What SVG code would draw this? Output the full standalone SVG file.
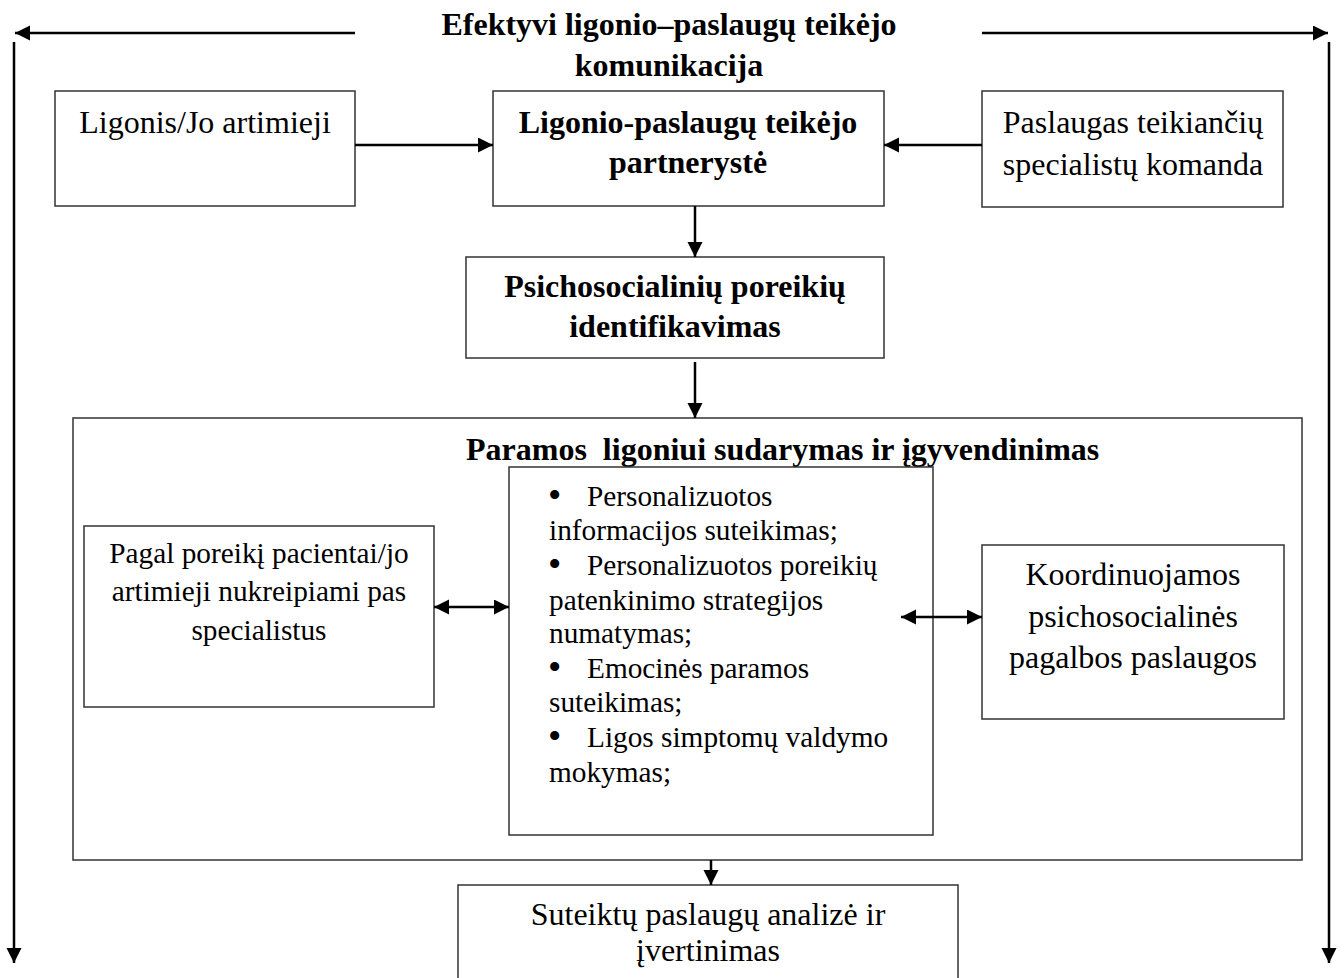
<svg xmlns="http://www.w3.org/2000/svg" width="1344" height="978" viewBox="0 0 1344 978">
<style>
.box{fill:#fff;stroke:#333;stroke-width:1.5}
.t{font-family:"Liberation Serif","Times New Roman",serif;font-size:32px;fill:#000}
.s{font-size:29.3px}
.bu{font-size:38px}
.b{font-weight:bold}
.c{text-anchor:middle}
.ln{stroke:#000;stroke-width:2.5;fill:none}
</style>
<defs>
<marker id="ah" markerUnits="userSpaceOnUse" markerWidth="16" markerHeight="16" refX="15" refY="7.5" orient="auto-start-reverse">
<path d="M0,0 L15,7.5 L0,15 z" fill="#000"/>
</marker>
</defs>
<rect width="1344" height="978" fill="#fff"/>
<g id="title">
<text class="t b c" x="669" y="35">Efektyvi ligonio–paslaugų teikėjo</text>
<text class="t b c" x="669" y="76">komunikacija</text>
</g>
<g id="n-paramos">
<rect class="box" x="73" y="418" width="1229" height="442"/>
<text class="t b" x="466" y="460" xml:space="preserve">Paramos  ligoniui sudarymas ir įgyvendinimas</text>
</g>
<g id="n-ligonis">
<rect class="box" x="55" y="91" width="300" height="115"/>
<text class="t c" x="205" y="133">Ligonis/Jo artimieji</text>
</g>
<g id="n-partnerystė">
<rect class="box" x="493" y="91" width="391" height="115"/>
<text class="t b c" x="688" y="133">Ligonio-paslaugų teikėjo</text>
<text class="t b c" x="688" y="173">partnerystė</text>
</g>
<g id="n-komanda">
<rect class="box" x="982" y="91" width="301" height="116"/>
<text class="t c" x="1133" y="133">Paslaugas teikiančių</text>
<text class="t c" x="1133" y="175">specialistų komanda</text>
</g>
<g id="n-psicho">
<rect class="box" x="466" y="257" width="418" height="101"/>
<text class="t b c" x="675" y="297">Psichosocialinių poreikių</text>
<text class="t b c" x="675" y="337">identifikavimas</text>
</g>
<g id="n-pagal">
<rect class="box" x="84" y="526" width="350" height="181"/>
<text class="t s c" x="259" y="563">Pagal poreikį pacientai/jo</text>
<text class="t s c" x="259" y="601">artimieji nukreipiami pas</text>
<text class="t s c" x="259" y="640">specialistus</text>
</g>
<g id="n-bullets">
<rect class="box" x="509" y="467" width="424" height="368"/>
<text class="t bu" x="548" y="508">•</text><text class="t s" x="587" y="506">Personalizuotos</text>
<text class="t s" x="549" y="540">informacijos suteikimas;</text>
<text class="t bu" x="548" y="577">•</text><text class="t s" x="587" y="575">Personalizuotos poreikių</text>
<text class="t s" x="549" y="610">patenkinimo strategijos</text>
<text class="t s" x="549" y="643">numatymas;</text>
<text class="t bu" x="548" y="680">•</text><text class="t s" x="587" y="678">Emocinės paramos</text>
<text class="t s" x="549" y="712">suteikimas;</text>
<text class="t bu" x="548" y="749">•</text><text class="t s" x="587" y="747">Ligos simptomų valdymo</text>
<text class="t s" x="549" y="782">mokymas;</text>
</g>
<g id="n-koord">
<rect class="box" x="982" y="545" width="302" height="174"/>
<text class="t c" x="1133" y="585">Koordinuojamos</text>
<text class="t c" x="1133" y="627">psichosocialinės</text>
<text class="t c" x="1133" y="668">pagalbos paslaugos</text>
</g>
<g id="n-suteiktu">
<rect class="box" x="458" y="885" width="500" height="110"/>
<text class="t c" x="708" y="925">Suteiktų paslaugų analizė ir</text>
<text class="t c" x="708" y="961">įvertinimas</text>
</g>
<g id="connectors">
<line class="ln" x1="355" y1="33" x2="15" y2="33" marker-end="url(#ah)"/>
<line class="ln" x1="982" y1="33" x2="1328" y2="33" marker-end="url(#ah)"/>
<line class="ln" x1="14" y1="42" x2="14" y2="963" marker-end="url(#ah)"/>
<line class="ln" x1="1329" y1="42" x2="1329" y2="963" marker-end="url(#ah)"/>
<line class="ln" x1="355" y1="145" x2="493" y2="145" marker-end="url(#ah)"/>
<line class="ln" x1="982" y1="145" x2="884" y2="145" marker-end="url(#ah)"/>
<line class="ln" x1="695" y1="206" x2="695" y2="257" marker-end="url(#ah)"/>
<line class="ln" x1="695" y1="362" x2="695" y2="418" marker-end="url(#ah)"/>
<line class="ln" x1="434" y1="607" x2="509" y2="607" marker-start="url(#ah)" marker-end="url(#ah)"/>
<line class="ln" x1="901" y1="617" x2="982" y2="617" marker-start="url(#ah)" marker-end="url(#ah)"/>
<line class="ln" x1="711" y1="860" x2="711" y2="885" marker-end="url(#ah)"/>
</g>
</svg>
